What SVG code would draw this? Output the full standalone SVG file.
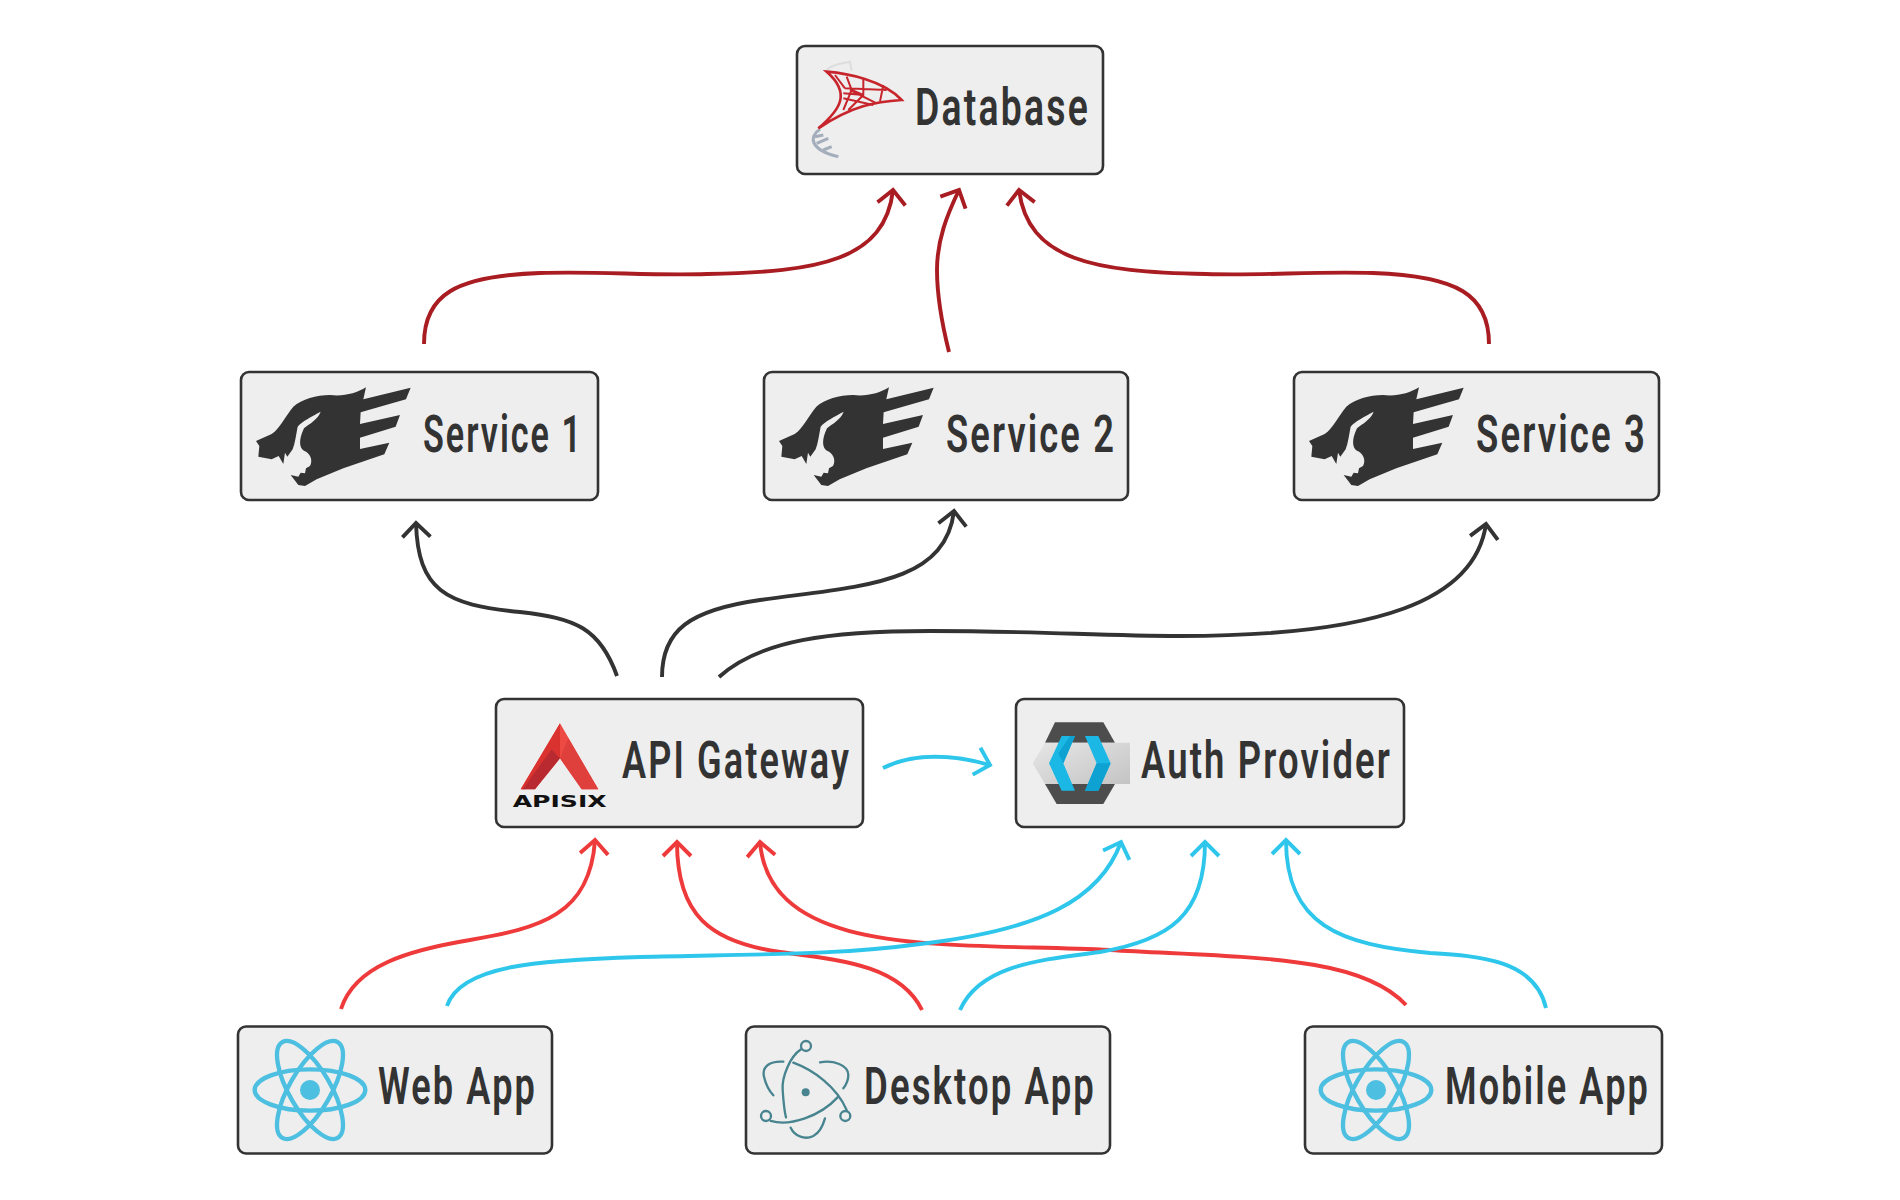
<svg xmlns="http://www.w3.org/2000/svg" xmlns:xlink="http://www.w3.org/1999/xlink" width="1900" height="1200" viewBox="0 0 1900 1200">
<style>
.box{fill:#eeeeee;stroke:#333333;stroke-width:2.6}
.lb{font-family:"Roboto","Liberation Sans",sans-serif;font-size:51px;font-weight:600;letter-spacing:3px;fill:#333333}
.c{fill:none;stroke-width:3.9;stroke-linecap:butt}
.dk{stroke:#333333;marker-end:url(#mDk)}
.dr{stroke:#a81c22;marker-end:url(#mDr)}
.rd{stroke:#ee3a3a;marker-end:url(#mRd)}
.bl{stroke:#2fc6ec;marker-end:url(#mBl)}
.re{fill:none;stroke:#4dbfe0;stroke-width:13}
.el{fill:none;stroke:#47848f;stroke-width:7;stroke-linecap:round}
.net{fill:none;stroke:#c8242c;stroke-width:6}
.hx{fill:none;stroke:#a3adbb;stroke-width:9}
</style>
<defs>
<marker id="mDk" markerUnits="userSpaceOnUse" orient="auto" overflow="visible" markerWidth="1" markerHeight="1"><path d="M-14 -14L0 0L-14 14" fill="none" stroke="#333333" stroke-width="3.9"/></marker>
<marker id="mDr" markerUnits="userSpaceOnUse" orient="auto" overflow="visible" markerWidth="1" markerHeight="1"><path d="M-14 -14L0 0L-14 14" fill="none" stroke="#a81c22" stroke-width="3.9"/></marker>
<marker id="mRd" markerUnits="userSpaceOnUse" orient="auto" overflow="visible" markerWidth="1" markerHeight="1"><path d="M-14 -14L0 0L-14 14" fill="none" stroke="#ee3a3a" stroke-width="3.9"/></marker>
<marker id="mBl" markerUnits="userSpaceOnUse" orient="auto" overflow="visible" markerWidth="1" markerHeight="1"><path d="M-14 -14L0 0L-14 14" fill="none" stroke="#2fc6ec" stroke-width="3.9"/></marker>
<linearGradient id="kc" x1="0" x2="1" y1="0" y2="1"><stop offset="0" stop-color="#e6e6e6"/><stop offset="1" stop-color="#c4c4c4"/></linearGradient>
<g id="wolf"><path fill="#333333" d="M408 82L400 118L542 83L528 118L392 157L390 192L510 165L497 200L390 233L390 267L478 248L463 283L340 325L260 358L225 378L205 375L182 345L205 350L212 338L225 340L228 325L240 318C250 300 240 278 222 272C208 265 205 240 222 205C240 190 262 180 272 155C245 170 215 185 203 200C198 225 195 250 188 268L172 290L165 278L160 312L146 288L125 298L85 290L88 258L78 243L125 222C150 205 165 170 190 140C215 118 260 105 300 105C340 110 380 100 408 82Z"/></g>
<g id="react">
<ellipse class="re" cx="240" cy="210" rx="166" ry="62"/>
<ellipse class="re" cx="240" cy="210" rx="166" ry="62" transform="rotate(60 240 210)"/>
<ellipse class="re" cx="240" cy="210" rx="166" ry="62" transform="rotate(-60 240 210)"/>
<circle cx="240" cy="210" r="30" fill="#4dbfe0"/>
</g>
</defs>

<g id="connectors">
<path class="c dr" d="M424 344C424 295 455 276 540 273C600 271 650 276 707 274C820 272 885 260 893 190"/>
<path class="c dr" d="M949 352C941 320 937 295 937 270C937 240 947 215 959 190"/>
<path class="c dr" d="M1489 344C1489 295 1458 276 1373 273C1313 271 1263 276 1206 274C1093 272 1028 260 1019 190"/>
<path class="c dk" d="M617 676C600 628 575 618 520 612C445 605 418 590 416 523"/>
<path class="c dk" d="M662 677C662 630 690 610 760 600C860 586 945 585 954 511"/>
<path class="c dk" d="M719 677C760 640 830 631 930 631C1040 631 1100 636 1180 636C1380 636 1475 600 1486 524"/>
<path class="c bl" d="M883 768C915 752 955 755 990 765"/>
<path class="c rd" d="M341 1009C355 965 410 950 470 940C540 928 590 915 595 840"/>
<path class="c rd" d="M922 1010C900 965 840 960 780 952C710 942 677 915 677 842"/>
<path class="c rd" d="M1406 1005C1360 955 1250 958 1110 950C950 942 770 960 760 842"/>
<path class="c bl" d="M447 1006C460 965 540 960 640 957C760 954 840 955 920 944C1040 930 1100 900 1121 842"/>
<path class="c bl" d="M960 1010C980 965 1040 960 1100 952C1170 940 1205 915 1205 842"/>
<path class="c bl" d="M1546 1008C1535 960 1480 956 1430 953C1340 945 1286 925 1286 840"/>
</g>

<g id="database">
<rect class="box" x="797" y="46" width="306" height="128" rx="8"/>
<g transform="translate(780 30) scale(.3333)">
<path fill="none" stroke="#dddddd" stroke-width="6" d="M140 120C160 100 190 100 210 95L215 122"/>
<path class="hx" d="M120 298C85 320 90 360 175 380M105 320L130 315M110 340L145 325M130 360L155 350"/>
<path fill="#eeeeee" stroke="#c8242c" stroke-width="8" d="M140 125C200 130 310 150 365 210C290 215 220 225 115 295C180 240 215 190 140 125Z"/>
<path class="net" d="M165 135L195 175M200 140L215 180L190 240M250 145L250 195L205 240M310 165L300 215M195 175L320 180M190 205L280 225M210 180L290 220M190 190L250 195L215 180"/>
</g>
<text class="lb" x="915" y="124.500" textLength="175" lengthAdjust="spacingAndGlyphs">Database</text>
</g>

<g id="service1">
<rect class="box" x="241" y="372" width="357" height="128" rx="8"/>
<use href="#wolf" transform="translate(230 360) scale(.3333)"/>
<text class="lb" x="423" y="452" textLength="160" lengthAdjust="spacingAndGlyphs">Service 1</text>
</g>
<g id="service2">
<rect class="box" x="764" y="372" width="364" height="128" rx="8"/>
<use href="#wolf" transform="translate(753 360) scale(.3333)"/>
<text class="lb" x="946" y="452" textLength="170" lengthAdjust="spacingAndGlyphs">Service 2</text>
</g>
<g id="service3">
<rect class="box" x="1294" y="372" width="365" height="128" rx="8"/>
<use href="#wolf" transform="translate(1283 360) scale(.3333)"/>
<text class="lb" x="1476" y="452" textLength="171" lengthAdjust="spacingAndGlyphs">Service 3</text>
</g>

<g id="api-gateway">
<rect class="box" x="496" y="699" width="367" height="128" rx="8"/>
<g transform="translate(480 690) scale(.3333)">
<path fill="#ee4a44" d="M240 100L355 298L305 298L240 205L165 298L122 298Z"/>
<path fill="#d9322f" d="M240 100L122 298L135 298L215 178L240 205Z"/>
<path fill="#b92a30" d="M215 178L240 205L165 298L128 298Z"/>
<path fill="#e0403c" d="M265 145L240 205L305 298L355 298Z"/>
<text x="98" y="350" font-family="'DejaVu Sans',sans-serif" font-weight="700" font-size="50" fill="#111111" textLength="282" lengthAdjust="spacingAndGlyphs">APISIX</text>
</g>
<text class="lb" x="622" y="778" textLength="229" lengthAdjust="spacingAndGlyphs">API Gateway</text>
</g>

<g id="auth-provider">
<rect class="box" x="1016" y="699" width="388" height="128" rx="8"/>
<g transform="translate(1000 690) scale(.3333)">
<path fill="#4d4d4d" d="M165 97L310 97L345 158L135 158Z"/>
<path fill="#4d4d4d" d="M135 282L345 282L310 342L170 342Z"/>
<path fill="url(#kc)" d="M98 220L135 158L390 158L390 282L135 282Z"/>
<path fill="#1bb8e6" d="M185 138L225 138L190 220L225 302L185 302L147 220Z"/>
<path fill="#0ea2d2" d="M210 138L225 138L190 220L175 190Z"/>
<path fill="#1bb8e6" d="M255 138L295 138L332 220L295 302L255 302L290 220Z"/>
<path fill="#0ea2d2" d="M290 220L332 220L295 302L255 302Z"/>
</g>
<text class="lb" x="1141" y="778" textLength="251" lengthAdjust="spacingAndGlyphs">Auth Provider</text>
</g>

<g id="web-app">
<rect class="box" x="238" y="1026.500" width="314" height="127" rx="8"/>
<use href="#react" transform="translate(230 1020) scale(.3333)"/>
<text class="lb" x="378" y="1104" textLength="159" lengthAdjust="spacingAndGlyphs">Web App</text>
</g>

<g id="desktop-app">
<rect class="box" x="746" y="1026.500" width="364" height="127" rx="8"/>
<g transform="translate(740 1020) scale(.3333)">
<circle cx="197" cy="217" r="12" fill="#47848f"/>
<circle class="el" cx="198" cy="78" r="15"/>
<circle class="el" cx="78" cy="288" r="15"/>
<circle class="el" cx="316" cy="288" r="15"/>
<path class="el" d="M183 88C150 110 125 170 128 210C130 240 132 270 138 292"/>
<path class="el" d="M160 128C220 150 290 200 320 270"/>
<path class="el" d="M92 303C150 320 240 290 295 230"/>
<path class="el" d="M130 125C90 122 65 140 72 170C78 195 90 215 100 226"/>
<path class="el" d="M240 127C280 120 325 135 325 165C325 185 318 195 310 205"/>
<path class="el" d="M152 323C165 350 195 360 220 348C235 340 248 320 255 295"/>
</g>
<text class="lb" x="864" y="1104" textLength="232" lengthAdjust="spacingAndGlyphs">Desktop App</text>
</g>

<g id="mobile-app">
<rect class="box" x="1305" y="1026.500" width="357" height="127" rx="8"/>
<use href="#react" transform="translate(1296 1020) scale(.3333)"/>
<text class="lb" x="1445" y="1104" textLength="205" lengthAdjust="spacingAndGlyphs">Mobile App</text>
</g>
</svg>
